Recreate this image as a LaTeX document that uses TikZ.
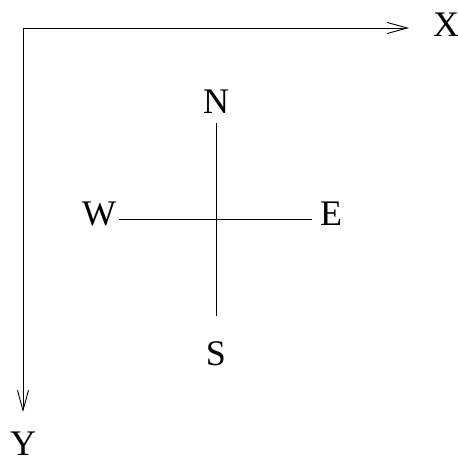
\documentclass[tikz,border=0pt]{standalone}
\usepackage{fontspec}
\setmainfont{Liberation Serif}
\usetikzlibrary{arrows.meta}
\begin{document}
\begin{tikzpicture}[x=1pt,y=-1pt,
  lbl/.style={font=\fontsize{36}{36}\selectfont, inner sep=0pt, anchor=base, yshift=-12pt},
  ln/.style={line width=0.9pt},
  axarrow/.style={ln,-{Straight Barb[length=20pt,width=11pt,line width=0.9pt]}}]
\useasboundingbox (0,0) rectangle (458,459);
\coordinate (O) at (23,28);
\coordinate (Xe) at (409,28);
\coordinate (Ye) at (23,412);
\node[lbl] (X) at (446,24) {X};
\node[lbl] (Y) at (23,443) {Y};
\draw[axarrow] (O) -- (Xe);
\draw[axarrow] (O) -- (Ye);
\node[lbl] (N) at (216,101) {N};
\node[lbl] (S) at (216,353) {S};
\node[lbl] (W) at (99,213) {W};
\node[lbl] (E) at (331,213) {E};
\coordinate (nt) at (216,123);
\coordinate (sb) at (216,316);
\coordinate (wl) at (119,219);
\coordinate (er) at (312,219);
\draw[ln] (nt) -- (sb);
\draw[ln] (wl) -- (er);
\end{tikzpicture}
\end{document}
